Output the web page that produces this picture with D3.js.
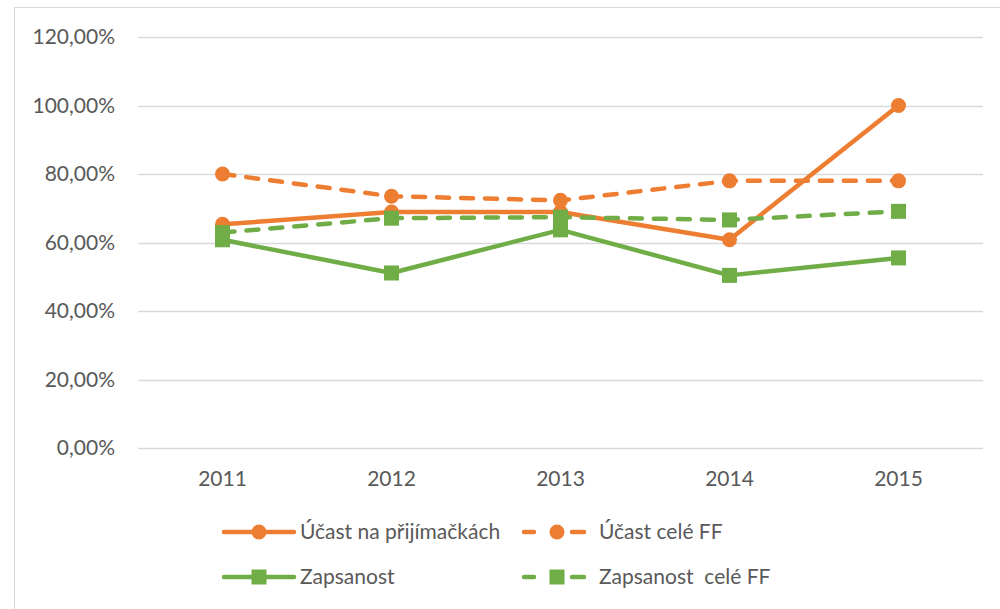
<!DOCTYPE html>
<html>
<head>
<meta charset="utf-8">
<script src="https://cdn.jsdelivr.net/npm/d3@7"></script>
<style>
  body { margin: 0; background: #fff; }
  text { font-family: Lato, "Open Sans", sans-serif; fill: #595959; }
</style>
</head>
<body>
<script>
'use strict';

// data
const years = ["2011", "2012", "2013", "2014", "2015"];
const ucastPrij = [65.3, 68.9, 68.9, 60.8, 100.0];
const ucastFF = [80.0, 73.5, 72.3, 78.0, 78.0];
const zapsanost = [60.8, 51.1, 63.7, 50.4, 55.5];
const zapsanostFF = [62.9, 67.1, 67.4, 66.6, 69.1];
const yTicks = [0, 20, 40, 60, 80, 100, 120];

const series = [
    { name: "Účast na přijímačkách", values: ucastPrij, color: "#ed7d31", dashed: false, marker: "circle" },
    { name: "Účast celé FF", values: ucastFF, color: "#ed7d31", dashed: true, marker: "circle" },
    { name: "Zapsanost", values: zapsanost, color: "#70ad47", dashed: false, marker: "square" },
    { name: "Zapsanost  celé FF", values: zapsanostFF, color: "#70ad47", dashed: true, marker: "square" }
];

const width = 1000, height = 609;
const svg = d3.select("body").append("svg")
    .attr("width", width)
    .attr("height", height);

// chart area frame (only top and left visible in the picture)
svg.append("path")
    .attr("d", "M14.5,609 V7.5 H1000")
    .attr("fill", "none")
    .attr("stroke", "#d9d9d9")
    .attr("stroke-width", 1);

let x = d3.scaleBand()
    .domain(years)
    .range([138, 983]);

let y = d3.scaleLinear()
    .domain([0, 120])
    .range([448, 37]);

// gridlines
svg.append("g")
    .selectAll("line")
    .data(yTicks)
    .enter().append("line")
      .attr("x1", 138)
      .attr("x2", 983)
      .attr("y1", d => Math.round(y(d)) + 0.5)
      .attr("y2", d => Math.round(y(d)) + 0.5)
      .attr("stroke", "#d9d9d9")
      .attr("stroke-width", 1.5);

// y axis labels
let yAxis = svg.append("g")
    .attr("transform", "translate(115,0)")
    .call(d3.axisLeft(y).tickValues(yTicks).tickSize(0).tickPadding(0)
        .tickFormat(d => d3.format(".2f")(d).replace(".", ",") + "%"));
yAxis.select(".domain").remove();
yAxis.selectAll("text")
    .style("font-size", "21px")
    .attr("fill", "#595959");

// x axis labels
let xAxis = svg.append("g")
    .attr("transform", "translate(0,448)")
    .call(d3.axisBottom(x).tickSize(0).tickPadding(23));
xAxis.select(".domain").remove();
xAxis.selectAll("text")
    .style("font-size", "21px")
    .attr("fill", "#595959");

const line = d3.line()
    .x((d, i) => x(years[i]) + x.bandwidth() / 2)
    .y(d => y(d));

function drawMarker(g, kind, cx, cy, color) {
    if (kind === "circle") {
        g.append("circle")
            .attr("cx", cx).attr("cy", cy).attr("r", 7.5)
            .attr("fill", color);
    } else {
        g.append("rect")
            .attr("x", cx - 7.5).attr("y", cy - 7.5)
            .attr("width", 15).attr("height", 15)
            .attr("fill", color);
    }
}

series.forEach(s => {
    let g = svg.append("g");
    g.append("path")
        .datum(s.values)
        .attr("d", line)
        .attr("fill", "none")
        .attr("stroke", s.color)
        .attr("stroke-width", 4.5)
        .attr("stroke-linejoin", "round")
        .attr("stroke-linecap", "round")
        .attr("stroke-dasharray", s.dashed ? "12,12" : null);
    s.values.forEach((v, i) => {
        drawMarker(g, s.marker, x(years[i]) + x.bandwidth() / 2, y(v), s.color);
    });
});

// legend
const legendPos = [
    { x: 222, y: 532 }, { x: 520, y: 532 },
    { x: 222, y: 577 }, { x: 520, y: 577 }
];

series.forEach((s, i) => {
    let p = legendPos[i];
    let g = svg.append("g").attr("transform", "translate(" + p.x + "," + p.y + ")");
    if (s.dashed) {
        g.append("line").attr("x1", 4).attr("x2", 14).attr("y1", 0).attr("y2", 0)
            .attr("stroke", s.color).attr("stroke-width", 4.5).attr("stroke-linecap", "round");
        g.append("line").attr("x1", 52).attr("x2", 64).attr("y1", 0).attr("y2", 0)
            .attr("stroke", s.color).attr("stroke-width", 4.5).attr("stroke-linecap", "round");
        drawMarker(g, s.marker, 37, 0, s.color);
    } else {
        g.append("line").attr("x1", 2).attr("x2", 72).attr("y1", 0).attr("y2", 0)
            .attr("stroke", s.color).attr("stroke-width", 4.5).attr("stroke-linecap", "round");
        drawMarker(g, s.marker, 37, 0, s.color);
    }
    g.append("text")
        .attr("x", s.dashed ? 79 : 78)
        .attr("y", 0)
        .attr("dy", "0.35em")
        .style("font-size", "21px")
        .style("white-space", "pre")
        .text(s.name);
});
</script>
</body>
</html>
